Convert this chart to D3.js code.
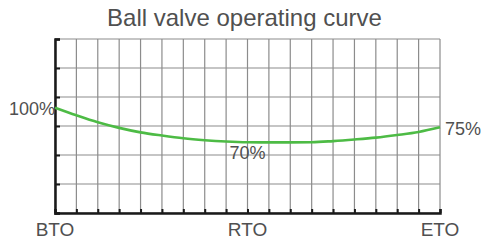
<!DOCTYPE html>
<html>
<head>
<meta charset="utf-8">
<script src="https://cdn.jsdelivr.net/npm/d3@7"></script>
<style>
  body { margin: 0; background: #fff; }
  text { font-family: Arial, "Liberation Sans", sans-serif; fill: #505050; }
</style>
</head>
<body>
<div id="chart"></div>
<script>
// travel positions (grid columns) and the curve
var steps = d3.range(0, 19);
var torque = [72.6, 67.4, 62.6, 58.7, 55.6, 53.4, 51.5, 50.2, 49.3, 48.8,
              48.7, 48.7, 48.8, 49.6, 50.7, 52.0, 53.8, 55.9, 59.1];
var xLabels = ["BTO", "RTO", "ETO"];
var xLabelAt = [0, 9, 18];
var pointLabels = ["100%", "70%", "75%"];
var pointLabelAt = [0, 9, 18];
var yTicks = [0, 20, 40, 60, 80, 100, 120];

var margin = {top: 39, right: 43, bottom: 31, left: 55},
    width = 483 - margin.left - margin.right,
    height = 244 - margin.top - margin.bottom;

var svg = d3.select("#chart")
  .append("svg")
    .attr("width", 483)
    .attr("height", 244)
  .append("g")
    .attr("transform", "translate(" + margin.left + "," + margin.top + ")");

var x = d3.scaleLinear().domain([0, 18]).range([0, width]);
var y = d3.scaleLinear().domain([0, 120]).range([height, 0]);

// title
svg.append("text")
  .attr("x", width / 2 - 3)
  .attr("y", -13)
  .attr("text-anchor", "middle")
  .style("font-size", "24px")
  .text("Ball valve operating curve");

// grid
svg.append("g")
  .selectAll("line.v")
  .data(steps)
  .enter()
  .append("line")
    .attr("x1", function(d) { return x(d); })
    .attr("x2", function(d) { return x(d); })
    .attr("y1", 0)
    .attr("y2", height)
    .attr("stroke", "#8c8c8c")
    .attr("stroke-width", 1.2);

svg.append("g")
  .selectAll("line.h")
  .data(yTicks)
  .enter()
  .append("line")
    .attr("x1", 0)
    .attr("x2", width)
    .attr("y1", function(d) { return y(d); })
    .attr("y2", function(d) { return y(d); })
    .attr("stroke", "#8c8c8c")
    .attr("stroke-width", 1.2);

// axes (black, ticks inside)
var yAxis = svg.append("g")
  .call(d3.axisLeft(y).tickValues(yTicks).tickSize(-5).tickFormat(""));
var xAxis = svg.append("g")
  .attr("transform", "translate(0," + height + ")")
  .call(d3.axisBottom(x).tickValues(steps).tickSize(-4).tickFormat(""));
[yAxis, xAxis].forEach(function(a) {
  a.select(".domain").attr("stroke", "#1a1a1a").attr("stroke-width", 2.5);
  a.selectAll(".tick line").attr("stroke", "#1a1a1a").attr("stroke-width", 2);
});

// curve
var line = d3.line()
  .x(function(d, i) { return x(steps[i]); })
  .y(function(d) { return y(d); })
  .curve(d3.curveMonotoneX);

svg.append("path")
  .datum(torque)
  .attr("fill", "none")
  .attr("stroke", "#4dbb45")
  .attr("stroke-width", 2.6)
  .attr("d", line);

// x labels
svg.selectAll("text.xl")
  .data(xLabels)
  .enter()
  .append("text")
    .attr("x", function(d, i) { return x(xLabelAt[i]); })
    .attr("y", height + 23)
    .attr("text-anchor", "middle")
    .style("font-size", "19px")
    .text(function(d) { return d; });

// point labels
var lblPos = [
  {dx: 0, dy: 7, anchor: "end"},
  {dx: 0, dy: 17, anchor: "middle"},
  {dx: 5, dy: 8, anchor: "start"}
];
svg.selectAll("text.pl")
  .data(pointLabels)
  .enter()
  .append("text")
    .attr("x", function(d, i) { return x(pointLabelAt[i]) + lblPos[i].dx; })
    .attr("y", function(d, i) { return y(torque[pointLabelAt[i]]) + lblPos[i].dy; })
    .attr("text-anchor", function(d, i) { return lblPos[i].anchor; })
    .style("font-size", "18px")
    .text(function(d) { return d; });
</script>
</body>
</html>
